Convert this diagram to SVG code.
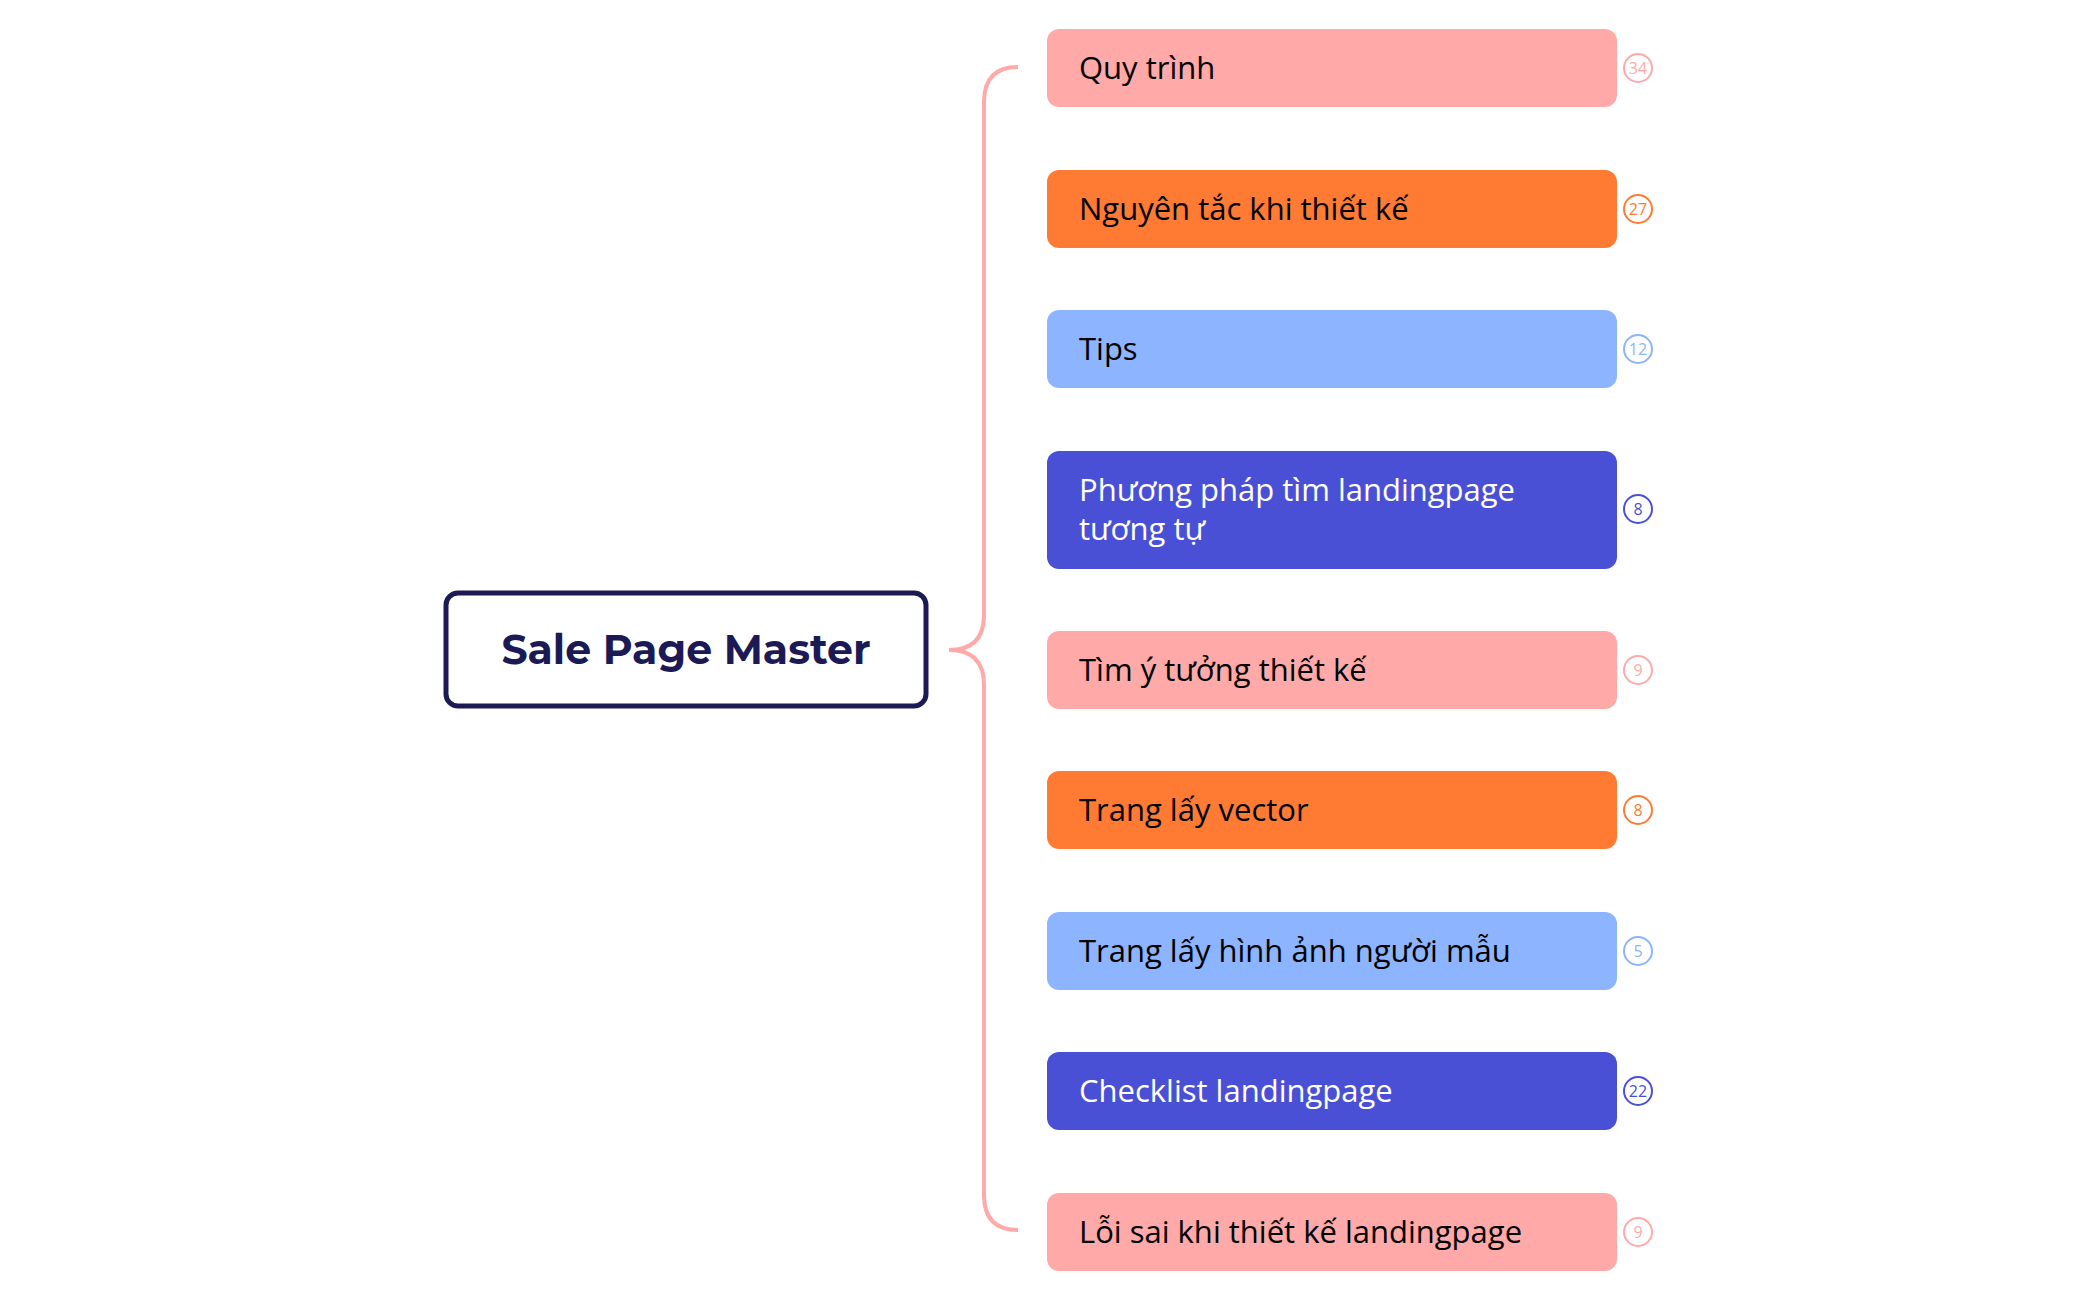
<svg xmlns="http://www.w3.org/2000/svg" width="2097" height="1300" viewBox="0 0 2097 1300">
<style>
.t{font-family:"Open Sans","Liberation Sans",sans-serif;font-size:31px;dominant-baseline:central}
.b{font-family:"Open Sans","Liberation Sans",sans-serif;font-size:16px;text-anchor:middle;dominant-baseline:central}
.pk{fill:#ffa9a8}.or{fill:#ff7b33}.lb{fill:#8cb4ff}.ind{fill:#4a50d6}
</style>
<rect width="2097" height="1300" fill="#fff"/>
<g id="connectors" fill="none" stroke="#ffa9a8" stroke-width="4">
<path d="M949 650 Q984 650 984 615 L984 102 Q984 67 1018 67"/>
<path d="M949 650 Q984 650 984 685 L984 1195 Q984 1230 1018 1230"/>
</g>
<g id="root">
<rect x="446" y="593" width="480" height="113" rx="12" fill="#fff" stroke="#1b1a55" stroke-width="5"/>
<text x="686" y="649" text-anchor="middle" dominant-baseline="central" font-family="Montserrat,'Open Sans','Liberation Sans',sans-serif" font-weight="bold" font-size="41" fill="#1b1a55">Sale Page Master</text>
</g>
<g id="n1"><rect class="pk" x="1047" y="29" width="570" height="78" rx="12"/><text class="t" x="1079" y="67">Quy trình</text><circle cx="1638" cy="68" r="14" fill="none" stroke="#ffa9a8" stroke-width="2"/><text class="b" x="1638" y="68" fill="#ffa9a8">34</text></g>
<g id="n2"><rect class="or" x="1047" y="170" width="570" height="78" rx="12"/><text class="t" x="1079" y="208">Nguyên tắc khi thiết kế</text><circle cx="1638" cy="209" r="14" fill="none" stroke="#ff7b33" stroke-width="2"/><text class="b" x="1638" y="209" fill="#ff7b33">27</text></g>
<g id="n3"><rect class="lb" x="1047" y="310" width="570" height="78" rx="12"/><text class="t" x="1079" y="348">Tips</text><circle cx="1638" cy="349" r="14" fill="none" stroke="#8cb4ff" stroke-width="2"/><text class="b" x="1638" y="349" fill="#8cb4ff">12</text></g>
<g id="n4"><rect class="ind" x="1047" y="451" width="570" height="118" rx="12"/><text class="t" x="1079" y="489" fill="#fff">Phương pháp tìm landingpage</text><text class="t" x="1079" y="528" fill="#fff">tương tự</text><circle cx="1638" cy="509" r="14" fill="none" stroke="#4a50d6" stroke-width="2"/><text class="b" x="1638" y="509" fill="#4a50d6">8</text></g>
<g id="n5"><rect class="pk" x="1047" y="631" width="570" height="78" rx="12"/><text class="t" x="1079" y="669">Tìm ý tưởng thiết kế</text><circle cx="1638" cy="670" r="14" fill="none" stroke="#ffa9a8" stroke-width="2"/><text class="b" x="1638" y="670" fill="#ffa9a8">9</text></g>
<g id="n6"><rect class="or" x="1047" y="771" width="570" height="78" rx="12"/><text class="t" x="1079" y="809">Trang lấy vector</text><circle cx="1638" cy="810" r="14" fill="none" stroke="#ff7b33" stroke-width="2"/><text class="b" x="1638" y="810" fill="#ff7b33">8</text></g>
<g id="n7"><rect class="lb" x="1047" y="912" width="570" height="78" rx="12"/><text class="t" x="1079" y="950">Trang lấy hình ảnh người mẫu</text><circle cx="1638" cy="951" r="14" fill="none" stroke="#8cb4ff" stroke-width="2"/><text class="b" x="1638" y="951" fill="#8cb4ff">5</text></g>
<g id="n8"><rect class="ind" x="1047" y="1052" width="570" height="78" rx="12"/><text class="t" x="1079" y="1090" fill="#fff">Checklist landingpage</text><circle cx="1638" cy="1091" r="14" fill="none" stroke="#4a50d6" stroke-width="2"/><text class="b" x="1638" y="1091" fill="#4a50d6">22</text></g>
<g id="n9"><rect class="pk" x="1047" y="1193" width="570" height="78" rx="12"/><text class="t" x="1079" y="1231">Lỗi sai khi thiết kế landingpage</text><circle cx="1638" cy="1232" r="14" fill="none" stroke="#ffa9a8" stroke-width="2"/><text class="b" x="1638" y="1232" fill="#ffa9a8">9</text></g>
</svg>
